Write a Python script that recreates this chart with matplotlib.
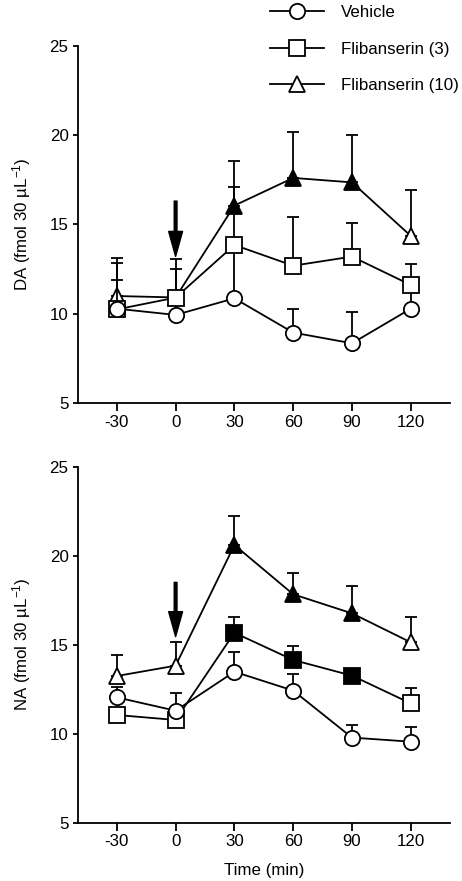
import numpy as np
import matplotlib
matplotlib.use('Agg')
import matplotlib.pyplot as plt
from matplotlib.lines import Line2D

plt.rcParams['font.family'] = ['Liberation Sans', 'DejaVu Sans']
plt.rcParams['mathtext.fontset'] = 'custom'
plt.rcParams['mathtext.rm'] = 'Liberation Sans'
plt.rcParams['mathtext.it'] = 'Liberation Sans:italic'
plt.rcParams['axes.unicode_minus'] = False
plt.rcParams['font.size'] = 12.2

time = [-30, 0, 30, 60, 90, 120]

# DA (top panel)
da_vehicle = [10.27, 9.92, 10.85, 8.93, 8.33, 10.27]
da_vehicle_top = [11.88, 10.6, 13.6, 10.23, 10.07, 11.3]
da_flib3 = [10.23, 10.89, 13.84, 12.68, 13.19, 11.6]
da_flib3_top = [12.81, 12.48, 17.07, 15.43, 15.1, 12.76]
da_flib10 = [10.98, 10.9, 16.05, 17.6, 17.35, 14.35]
da_flib10_top = [13.09, 13.04, 18.57, 20.2, 19.99, 16.93]
da_flib3_sig = [False, False, False, False, False, False]
da_flib10_sig = [False, False, True, True, True, False]

# NA (bottom panel)
na_vehicle = [12.04, 11.29, 13.48, 12.42, 9.78, 9.55]
na_vehicle_top = [12.6, 12.27, 14.61, 13.33, 10.49, 10.39]
na_flib3 = [11.05, 10.77, 15.67, 14.14, 13.26, 11.7]
na_flib3_top = [11.4, 11.1, 16.57, 14.94, 13.6, 12.55]
na_flib10 = [13.24, 13.82, 20.6, 17.83, 16.76, 15.13]
na_flib10_top = [14.42, 15.17, 22.25, 19.04, 18.3, 16.57]
na_flib3_sig = [False, False, True, True, True, False]
na_flib10_sig = [False, False, True, True, True, False]

labels = ['Vehicle', 'Flibanserin (3)', 'Flibanserin (10)']

fig = plt.figure(figsize=(4.62, 8.81), dpi=100)
ax1 = fig.add_axes([0.168, 0.5429, 0.806, 0.405])
ax2 = fig.add_axes([0.168, 0.0662, 0.806, 0.4041])

LW = 1.3


def draw_series(ax, y, top, marker, sig, ms, z):
    y = np.array(y)
    top = np.array(top)
    ax.errorbar(time, y, yerr=[np.zeros_like(y), top - y], fmt='none',
                ecolor='black', elinewidth=LW, capsize=4, capthick=LW, zorder=z)
    ax.plot(time, y, color='black', lw=LW, zorder=z + 0.5)
    for t, v, s in zip(time, y, sig):
        ax.plot(t, v, marker=marker, ms=ms, mec='black', mew=LW,
                mfc='black' if s else 'white', zorder=z + 1)


def style_axis(ax, ylabel, arrow):
    ax.set_xlim(-50, 140)
    ax.set_ylim(5, 25)
    ax.set_xticks(time)
    ax.set_yticks([5, 10, 15, 20, 25])
    ax.spines['top'].set_visible(False)
    ax.spines['right'].set_visible(False)
    ax.spines['left'].set_linewidth(LW)
    ax.spines['bottom'].set_linewidth(LW)
    ax.tick_params(axis='x', direction='out', length=5.5, width=LW, pad=3)
    ax.tick_params(axis='y', direction='out', length=3.5, width=LW, pad=3)
    ax.set_ylabel(ylabel, labelpad=12)
    ax.annotate('', xy=(0, arrow[1]), xytext=(0, arrow[0]),
                arrowprops=dict(facecolor='black', edgecolor='black', width=2,
                                headwidth=10, headlength=18, shrink=0), zorder=10)


for ax, data in [(ax1, [(da_vehicle, da_vehicle_top, 'o', [False] * 6),
                        (da_flib3, da_flib3_top, 's', da_flib3_sig),
                        (da_flib10, da_flib10_top, '^', da_flib10_sig)]),
                 (ax2, [(na_vehicle, na_vehicle_top, 'o', [False] * 6),
                        (na_flib3, na_flib3_top, 's', na_flib3_sig),
                        (na_flib10, na_flib10_top, '^', na_flib10_sig)])]:
    for i, (y, top, m, sig) in enumerate(data):
        draw_series(ax, y, top, m, sig, 11, 3 - i)

style_axis(ax1, 'DA (fmol 30 µL$^{\\mathregular{-1}}$)', (16.3, 13.2))
style_axis(ax2, 'NA (fmol 30 µL$^{\\mathregular{-1}}$)', (18.5, 15.45))
ax2.set_xlabel('Time (min)', labelpad=10)

handles = [Line2D([], [], color='black', lw=LW, marker=m, ms=11, mfc='white',
                  mec='black', mew=LW) for m in ['o', 's', '^']]
fig.legend(handles, labels, loc='upper left', bbox_to_anchor=(0.584, 0.994),
           frameon=False, handlelength=3.2, handletextpad=1.0, labelspacing=1.27,
           borderpad=0, borderaxespad=0, fontsize=12.2)

plt.savefig('out.png', dpi=100)
